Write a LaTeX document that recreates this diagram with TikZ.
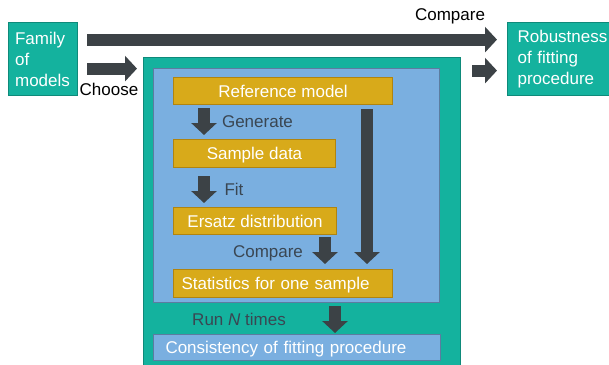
\documentclass[tikz,border=0pt]{standalone}
\usepackage{fontspec}
\setmainfont{Liberation Sans}
\usetikzlibrary{positioning, arrows.meta, calc}
\definecolor{tealfill}{RGB}{20,178,158}
\definecolor{tealline}{RGB}{14,138,122}
\definecolor{bluefill}{RGB}{122,175,224}
\definecolor{blueline}{RGB}{92,124,160}
\definecolor{goldfill}{RGB}{216,170,26}
\definecolor{goldline}{RGB}{176,132,16}
\definecolor{arrowgray}{RGB}{60,66,70}
\definecolor{labelgray}{RGB}{58,70,82}
\tikzstyle{grp}=[%
      rectangle, draw=tealline, line width=1.2pt, fill=tealfill, text=white,
      inner sep=0pt
]
\tikzstyle{blk}=[%
      rectangle, draw=blueline, line width=1pt, fill=bluefill, text=white,
      inner sep=0pt
]
\tikzstyle{gd}=[%
      rectangle, draw=goldline, line width=1pt, fill=goldfill, text=white,
      inner sep=0pt, text height=14pt, text depth=2pt
]
\tikzstyle{lb}=[inner sep=0pt, text=black]
\tikzstyle{lbd}=[inner sep=0pt, text=labelgray]
\tikzstyle{ar}=[%
      draw=arrowgray, fill=arrowgray, line width=12pt,
      -{Triangle[width=25pt,length=12pt]}
]

\begin{document}
\begin{tikzpicture}[x=1pt, y=-1pt,
    font=\fontsize{17}{21}\selectfont
  ]
    \useasboundingbox (0,0) rectangle (609,364);

    % outer boxes
    \node[grp, anchor=north west, minimum width=69pt, minimum height=73pt,
          text width=56pt, inner xsep=6.5pt, align=left] (fam) at (8,22)
          {Family\\of\\models};
    \node[grp, anchor=north west, minimum width=115pt, minimum height=73pt,
          text width=96pt, inner xsep=10pt, align=left] (rob) at (507,22)
          {Robustness\\of fitting\\procedure};
    \node[grp, anchor=north west, minimum width=317pt, minimum height=320pt] (loop) at (143,57) {};

    % one sample
    \node[blk, anchor=north west, minimum width=286pt, minimum height=234pt] (one) at (153,68) {};
    \node[gd, anchor=north west, minimum width=219pt, minimum height=27pt] (ref) at (173,77) {Reference model};
    \node[gd, anchor=north west, minimum width=162pt, minimum height=28pt] (samp) at (173,139) {Sample data};
    \node[gd, anchor=north west, minimum width=163pt, minimum height=27pt] (ersatz) at (173,207) {Ersatz distribution};
    \node[gd, anchor=north west, minimum height=28pt, text width=203pt,
          inner xsep=8pt, align=left] (stats) at (173,269) {Statistics for one sample};
    \node[blk, anchor=north west, minimum height=26pt, text width=263pt,
          inner xsep=12pt, align=left, text height=14pt, text depth=2pt] (cons) at (153,334)
          {Consistency of fitting procedure};

    % arrows
    \coordinate (ch) at ([yshift=-9.5pt]fam.east);
    \coordinate (rb) at ([yshift=-11.5pt]rob.west);
    \coordinate (cp) at ([xshift=-12pt]ersatz.south east);
    \coordinate (lg) at ([xshift=-26pt]ref.south east);
    \coordinate (rn) at ([xshift=182pt]one.south west);

    \draw[ar, shorten <=9pt, shorten >=10pt] ([yshift=19.5pt]fam.east) -- ([yshift=19.5pt]rob.west);
    \draw[ar, shorten <=9pt, shorten >=6pt] (ch) -- (ch -| loop.west);
    \draw[ar, shorten <=11pt, shorten >=10pt] (rb -| loop.east) -- (rb);
    \draw[ar, shorten <=3pt, shorten >=4pt] ([xshift=31pt]ref.south west) -- ([xshift=31pt]samp.north west);
    \draw[ar, shorten <=8pt, shorten >=4pt] ([xshift=31pt]samp.south west) -- ([xshift=31pt]ersatz.north west);
    \draw[ar, shorten <=2pt, shorten >=5pt] (cp) -- (cp |- stats.north);
    \draw[ar, shorten <=4pt, shorten >=5pt] (lg) -- (lg |- stats.north);
    \draw[ar, shorten <=3pt, shorten >=1pt] (rn) -- (rn |- cons.north);

    % labels
    \node[lb] (cmptop) at (450,16) {Compare};
    \node[lb] (choose) at (109,89.5) {Choose};
    \node[lbd] (gen) at (257.5,121.5) {Generate};
    \node[lbd] (fit) at (234,189.5) {Fit};
    \node[lbd] (cmpin) at (268,253) {Compare};
    \node[lbd] (run) at (239,319) {Run \textit{N} times};
  \end{tikzpicture}
\end{document}
